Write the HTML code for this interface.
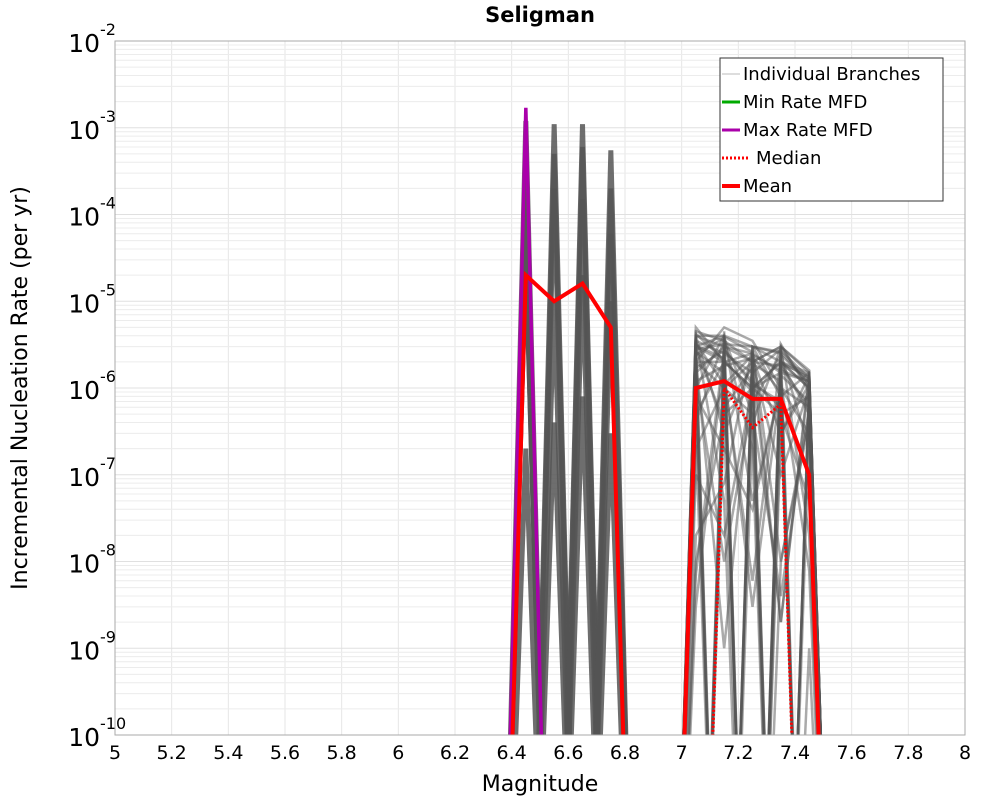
<!DOCTYPE html>
<html><head><meta charset="utf-8"><style>
html,body{margin:0;padding:0;background:#fff;width:1000px;height:800px;overflow:hidden}
svg{display:block}
text{font-family:"DejaVu Sans","Liberation Sans",sans-serif}
</style></head><body>
<svg id="chart" width="1000" height="800" xmlns="http://www.w3.org/2000/svg">
<defs><clipPath id="clip"><rect x="115" y="41" width="850" height="694"/></clipPath></defs>
<rect x="0" y="0" width="1000" height="800" fill="#fff"/>
<text x="540" y="22" text-anchor="middle" font-size="21" font-weight="bold">Seligman</text>
<g id="grid"></g>
<g id="marks" clip-path="url(#clip)"></g>
<rect x="115" y="41" width="850" height="694" fill="none" stroke="#aaa" stroke-width="1"/>
<g id="axes"></g>
<text x="540" y="791" text-anchor="middle" font-size="22">Magnitude</text>
<text transform="translate(27,388) rotate(-90)" text-anchor="middle" font-size="22">Incremental Nucleation Rate (per yr)</text>
<g>
<rect x="720" y="58" width="223" height="143" fill="#fff" stroke="#333" stroke-width="1"/>
<g><line x1="722" y1="74" x2="740" y2="74" stroke="#bbb" stroke-width="1"/><text x="743" y="80" font-size="18">Individual Branches</text></g>
<g><line x1="722" y1="102" x2="740" y2="102" stroke="#00aa00" stroke-width="3"/><text x="743" y="108" font-size="18">Min Rate MFD</text></g>
<g><line x1="722" y1="130" x2="740" y2="130" stroke="#aa00aa" stroke-width="3"/><text x="743" y="136" font-size="18">Max Rate MFD</text></g>
<g><line x1="722" y1="158" x2="750" y2="158" stroke="#f00" stroke-width="3" stroke-dasharray="2,2"/><text x="756" y="164" font-size="18">Median</text></g>
<g><line x1="722" y1="186" x2="740" y2="186" stroke="#f00" stroke-width="4"/><text x="743" y="192" font-size="18">Mean</text></g>
</g>
</svg>
<script>
const xTicks=[5,5.2,5.4,5.6,5.8,6,6.2,6.4,6.6,6.8,7,7.2,7.4,7.6,7.8,8];
const yDecades=[-2,-3,-4,-5,-6,-7,-8,-9,-10];
const spikeBins=[6.35,6.45,6.55,6.65,6.75,6.85];
const spikePeaks=[[1.2e-3,3e-4,1e-4,4e-5,2e-7],[1.1e-3,5e-4,2e-4,1e-5,4e-7],[1.1e-3,6e-4,1.5e-4,2e-5,8e-7],[5.5e-4,2e-4,6e-5,1e-5,3e-7]];
const rightBins=[6.95,7.05,7.15,7.25,7.35,7.45,7.55];
const rightBranches=[[4,3,2.5,1.5,1.2],[3,4,3,0.8,1.5],[5,2,1,2,0.5],[2,5,3.5,1,0.3],[0,3,2,3,1.5],[1,0,3,2,1],[3,2,0,3,1],[2,1,0.5,0,1.2],[0.5,2,1,1.5,0],[4,0.3,2,0.1,1],[1.5,3,0,0.5,0.8],[0,0,3,2.5,0.2],[3.5,2.5,1.5,0,0],[0.2,1,2,3,1.6],[2.5,0,0,2,1.3],[1,4,0.05,1,0],[0,2,2.5,0,1],[4.5,3.5,2,1.8,0.6],[0.01,0.5,1,2,1],[2,2,0,0.01,0.5],[3,0,1.5,2.8,0],[0,4.5,0,3.2,0.9],[1.2,1.8,2.2,0.3,1.4],[0.1,0.02,1,0.5,0.05],[2.8,3.2,3,2.6,1.1],[0,0,0,2,1.5],[4,4,0,0,0],[0.8,0.2,0.04,1,0.6],[1.7,2.7,1.2,0.6,0],[3.3,1.1,2.4,1.6,1.2],
[2.2,0.001,1.8,0,1],[0.003,2.4,0,1.4,0.7],[1.9,0,2.7,0.002,1.3],[0,1.3,0.006,2.2,0],[3.7,0.05,0,0.3,1.1],[0.4,3.6,0.2,0,0.9],[0.02,0.08,2.9,0.01,0.4],[2.6,1.5,0.003,1.1,0],[0,0.6,1.7,0.002,1.5],[1.1,0,0.4,2.9,0.02],[4.2,2.1,0.9,0,0.3],[0.007,2.8,1.1,0.7,0],[2.9,0.4,0,1.9,1.4],[0,3.9,2.6,0,0.001],[1.4,0.01,0.7,2.4,1.2],[3.1,2.2,0,0,1.0],[0.3,0,1.9,1.2,0.008],[2.4,3.8,0.5,0.004,0.6],[0,1.6,0,2.7,1.3],[3.9,0,2.3,0.9,0]];
const maxRate=[0,1.7e-3,0];
const maxBins=[6.35,6.45,6.55];
const meanLeft=[0,2e-5,1e-5,1.6e-5,5e-6,0];
const meanRight=[0,1e-6,1.2e-6,7.5e-7,7.5e-7,1e-7,0];
const medianBins=[7.05,7.15,7.25,7.35,7.45];
const medianVals=[0,1e-6,3.5e-7,6.5e-7,0];

const NS='http://www.w3.org/2000/svg';
const X0=115,X1=965,Y0=41,Y1=735;
const xs=m=>X0+(m-5)/3*(X1-X0);
const ys=v=>{const l=Math.log10(v>0?v:1e-16);return Y0+(-2-l)/8*(Y1-Y0);};
function mk(tag,attrs,parent){const e=document.createElementNS(NS,tag);for(const k in attrs)e.setAttribute(k,attrs[k]);parent.appendChild(e);return e;}
const grid=document.getElementById('grid'),axes=document.getElementById('axes'),marks=document.getElementById('marks');
xTicks.forEach(t=>{
  const l=mk('line',{x1:xs(t),x2:xs(t),y1:Y0,y2:Y1,stroke:'#e6e6e6','stroke-width':1},grid);
  
  
  const tx=mk('text',{x:xs(t),y:759,'text-anchor':'middle','font-size':19},axes);
  tx.textContent=String(t);
  
  
});
yDecades.forEach(d=>{
  for(let k=1;k<10;k++){
    if(d===-2&&k>1)continue;
    const y=ys(k*Math.pow(10,d));
    const l=mk('line',{x1:X0,x2:X1,y1:y,y2:y,stroke:k===1?'#e0e0e0':'#ececec','stroke-width':1},grid);
    
    
  }
  const y=ys(Math.pow(10,d));
  const tx=mk('text',{x:100,y:y+11,'text-anchor':'end','font-size':25},axes);
  tx.textContent='10';
  
  
  const sup=mk('text',{x:100,y:y-6,'text-anchor':'start','font-size':16},axes);
  sup.textContent=String(d);
  
  
});
function poly(bins,vals,attrs,name){
  const p=mk('polyline',Object.assign({points:bins.map((b,i)=>xs(b)+','+ys(vals[i])).join(' '),fill:'none'},attrs),marks);
  
  
}
spikePeaks.forEach((peaks,bi)=>{
  peaks.forEach(pk=>{
    const vals=spikeBins.map((b,i)=>i===bi+1?pk:0);
    poly(spikeBins,vals,{stroke:'#555','stroke-width':5,'stroke-opacity':0.85},'branch-line');
  });
});
[4e-4,1e-4,2e-5].forEach(pk=>{poly(maxBins,[0,pk,0],{stroke:'#555','stroke-width':4},'branch-line');});
rightBranches.forEach(r=>{
  const vals=[0].concat(r.map(v=>v*1e-6)).concat([0]);
  poly(rightBins,vals,{stroke:'#555','stroke-width':2.5,'stroke-opacity':0.5},'branch-line');
});
poly(maxBins,maxRate,{stroke:'#aa00aa','stroke-width':3.5},'max-rate-line');
poly(spikeBins,meanLeft,{stroke:'#f00','stroke-width':4,'stroke-linejoin':'miter'},'mean-line');
poly(rightBins,meanRight,{stroke:'#f00','stroke-width':4,'stroke-linejoin':'miter'},'mean-line');
poly(medianBins,medianVals,{stroke:'#f00','stroke-width':3,'stroke-dasharray':'2,2'},'median-line');
</script>
</body></html>
